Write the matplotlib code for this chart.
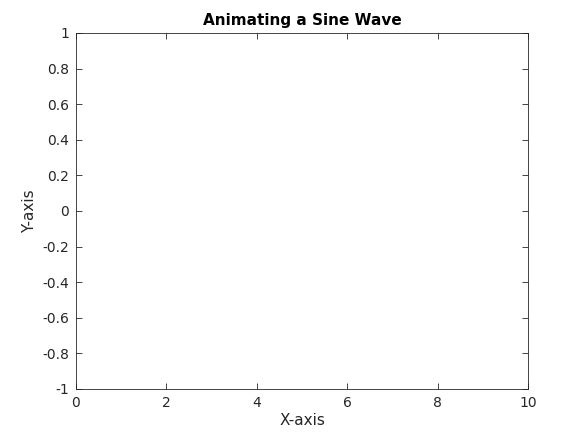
import matplotlib
matplotlib.use("Agg")
import matplotlib.pyplot as plt

# the animation frame is still empty: the line has no points yet
x_vals = []
y_vals = []
x_ticks = [0, 2, 4, 6, 8, 10]
y_ticks = [-1, -0.8, -0.6, -0.4, -0.2, 0, 0.2, 0.4, 0.6, 0.8, 1]
y_tick_labels = ["-1", "-0.8", "-0.6", "-0.4", "-0.2", "0", "0.2", "0.4", "0.6", "0.8", "1"]

plt.rcParams["axes.unicode_minus"] = False
plt.rcParams["font.family"] = ["DejaVu Sans"]

fig = plt.figure(figsize=(5.83, 4.37), dpi=100)
ax = fig.add_axes([76 / 583, 1 - 389 / 437, (528 - 76) / 583, (389 - 33) / 437])
ax.plot(x_vals, y_vals, color="#0072bd")

ax.set_xlim(0, 10)
ax.set_ylim(-1, 1)
ax.set_xticks(x_ticks)
ax.set_xticklabels([str(t) for t in x_ticks])
ax.set_yticks(y_ticks)
ax.set_yticklabels(y_tick_labels)
ax.tick_params(direction="in", top=True, right=True, length=4, width=0.6,
               labelsize=10, colors="#262626", pad=5)
for s in ax.spines.values():
    s.set_linewidth(0.6)
    s.set_color("#262626")

ax.set_title("Animating a Sine Wave", fontsize=11, fontweight="bold", pad=6)
ax.set_xlabel("X-axis", fontsize=11, color="#262626", labelpad=2)
ax.set_ylabel("Y-axis", fontsize=11, color="#262626", labelpad=4)

fig.savefig("out.png", dpi=100, facecolor="white")
